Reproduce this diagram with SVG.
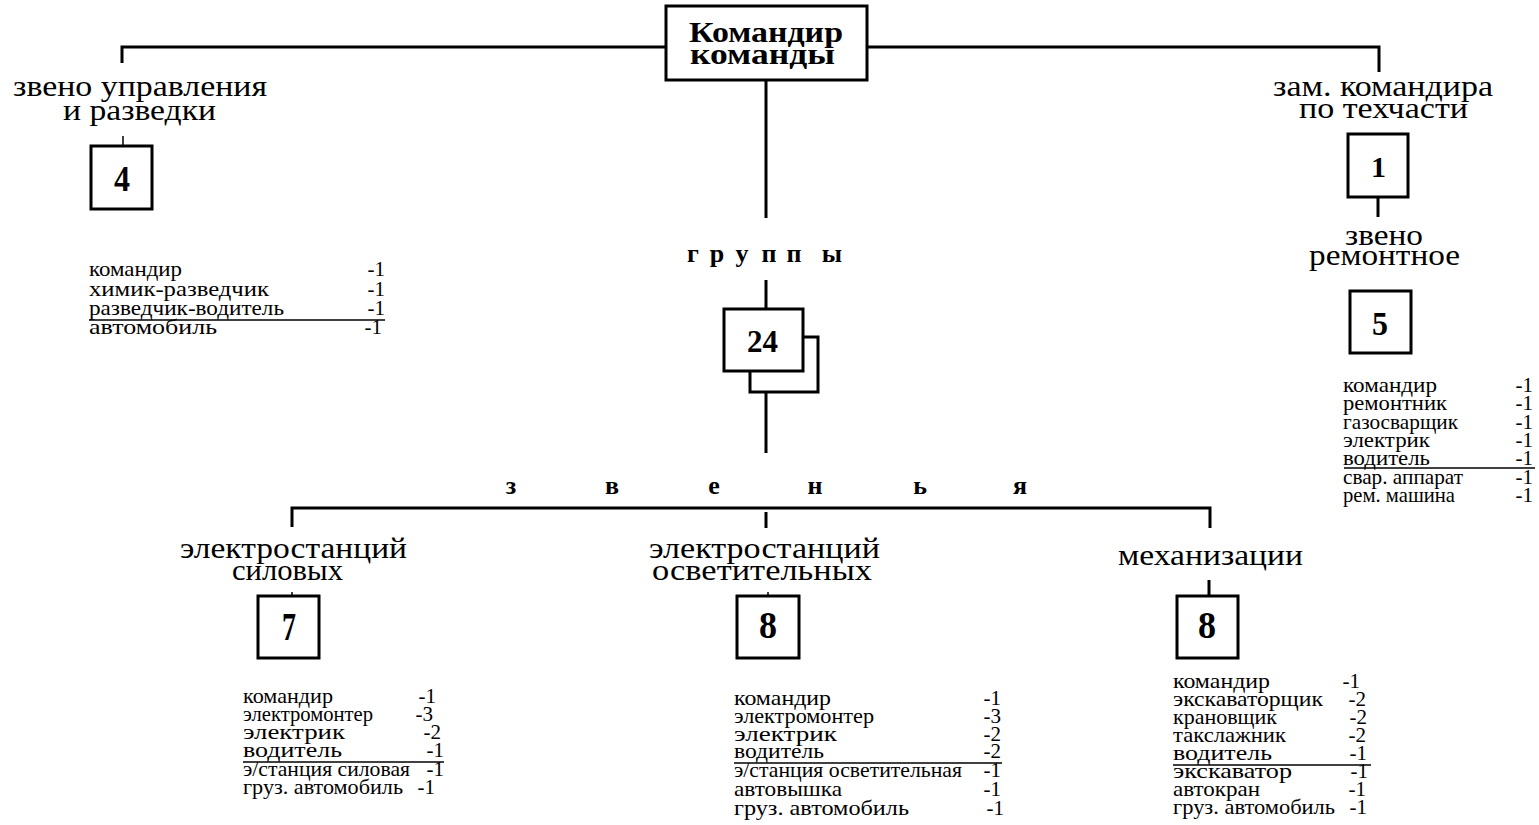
<svg xmlns="http://www.w3.org/2000/svg" width="1539" height="825" viewBox="0 0 1539 825">
<style>
.ln{stroke:#000;stroke-width:3;fill:none}
.thin{stroke:#000;stroke-width:1.5;fill:none}
.box{stroke:#000;stroke-width:3;fill:#fff}
.hd{font-family:"Liberation Serif",serif;font-size:30px;fill:#000}
.num{font-family:"Liberation Serif",serif;font-weight:bold;fill:#000}
.ttl{font-family:"Liberation Serif",serif;font-size:29px;font-weight:bold;fill:#000}
.sp{font-family:"Liberation Serif",serif;font-size:26px;font-weight:bold;text-anchor:middle;fill:#000}
.li{font-family:"Liberation Serif",serif;font-size:21px;fill:#000}
.lr{font-family:"Liberation Serif",serif;font-size:21px;fill:#000;text-anchor:end}
</style>
<rect width="1539" height="825" fill="#fff"/>
<g id="connectors">
<polyline class="ln" points="122,63 122,47 666,47"/>
<polyline class="ln" points="868,47 1379,47 1379,72"/>
<line class="ln" x1="766" y1="80" x2="766" y2="218"/>
<line class="thin" x1="123" y1="136" x2="123" y2="146"/>
<line class="ln" x1="1378" y1="197" x2="1378" y2="217"/>
<line class="ln" x1="766" y1="280" x2="766" y2="309"/>
<line class="ln" x1="766" y1="392" x2="766" y2="453"/>
<polyline class="ln" points="292,527 292,508 1210,508 1210,528"/>
<line class="ln" x1="766" y1="512" x2="766" y2="528"/>
<line class="thin" x1="292" y1="592" x2="292" y2="596"/>
<line class="thin" x1="768" y1="592" x2="768" y2="596"/>
<line class="ln" x1="1209" y1="580" x2="1209" y2="596"/>
</g>
<g id="commander">
<rect class="box" x="666" y="6" width="201" height="74"/>
<text class="ttl"><tspan x="689" y="42" textLength="154" lengthAdjust="spacingAndGlyphs">Командир</tspan><tspan x="690" y="64" textLength="145" lengthAdjust="spacingAndGlyphs">команды</tspan></text>
</g>
<g id="recon">
<text class="hd"><tspan x="13" y="96" textLength="254" lengthAdjust="spacingAndGlyphs">звено управления</tspan><tspan x="63" y="120" textLength="153" lengthAdjust="spacingAndGlyphs">и разведки</tspan></text>
<rect class="box" x="91" y="146" width="61" height="63"/>
<text class="num" x="114" y="191" font-size="36" textLength="16" lengthAdjust="spacingAndGlyphs">4</text>
<text class="li"><tspan x="89" y="276" textLength="93" lengthAdjust="spacingAndGlyphs">командир</tspan><tspan x="89" y="296" textLength="180" lengthAdjust="spacingAndGlyphs">химик-разведчик</tspan><tspan x="89" y="315" textLength="195" lengthAdjust="spacingAndGlyphs">разведчик-водитель</tspan><tspan x="89" y="334" textLength="128" lengthAdjust="spacingAndGlyphs">автомобиль</tspan></text>
<text class="lr"><tspan x="385" y="276">-1</tspan><tspan x="385" y="296">-1</tspan><tspan x="385" y="315">-1</tspan><tspan x="382" y="334">-1</tspan></text>
<line class="thin" x1="89" y1="320" x2="385" y2="320"/>
</g>
<g id="deputy">
<text class="hd"><tspan x="1273" y="96" textLength="220" lengthAdjust="spacingAndGlyphs">зам. командира</tspan><tspan x="1299" y="118" textLength="169" lengthAdjust="spacingAndGlyphs">по техчасти</tspan></text>
<rect class="box" x="1348" y="134" width="60" height="63"/>
<text class="num" x="1371" y="177" font-size="30" textLength="15" lengthAdjust="spacingAndGlyphs">1</text>
</g>
<g id="repair">
<text class="hd"><tspan x="1345" y="245" textLength="78" lengthAdjust="spacingAndGlyphs">звено</tspan><tspan x="1309" y="265" textLength="151" lengthAdjust="spacingAndGlyphs">ремонтное</tspan></text>
<rect class="box" x="1350" y="291" width="61" height="62"/>
<text class="num" x="1372" y="335" font-size="33" textLength="16" lengthAdjust="spacingAndGlyphs">5</text>
<text class="li"><tspan x="1343" y="392" textLength="94" lengthAdjust="spacingAndGlyphs">командир</tspan><tspan x="1343" y="410" textLength="104" lengthAdjust="spacingAndGlyphs">ремонтник</tspan><tspan x="1343" y="429" textLength="115" lengthAdjust="spacingAndGlyphs">газосварщик</tspan><tspan x="1343" y="447" textLength="87" lengthAdjust="spacingAndGlyphs">электрик</tspan><tspan x="1343" y="465" textLength="87" lengthAdjust="spacingAndGlyphs">водитель</tspan><tspan x="1343" y="484" textLength="120" lengthAdjust="spacingAndGlyphs">свар. аппарат</tspan><tspan x="1343" y="502" textLength="112" lengthAdjust="spacingAndGlyphs">рем. машина</tspan></text>
<text class="lr"><tspan x="1533" y="392">-1</tspan><tspan x="1533" y="410">-1</tspan><tspan x="1533" y="429">-1</tspan><tspan x="1533" y="447">-1</tspan><tspan x="1533" y="465">-1</tspan><tspan x="1533" y="484">-1</tspan><tspan x="1533" y="502">-1</tspan></text>
<line class="thin" x1="1344" y1="468" x2="1535" y2="468"/>
</g>
<g id="groups">
<text class="sp" x="693" y="262">г</text>
<text class="sp" x="717" y="262">р</text>
<text class="sp" x="742" y="262">у</text>
<text class="sp" x="769" y="262">п</text>
<text class="sp" x="794" y="262">п</text>
<text class="sp" x="832" y="262">ы</text>
<rect class="box" x="750" y="337" width="68" height="55"/>
<rect class="box" x="724" y="309" width="79" height="62"/>
<text class="num" x="747" y="352" font-size="32" textLength="31" lengthAdjust="spacingAndGlyphs">24</text>
</g>
<g id="links-label">
<text class="sp" x="511" y="494">з</text>
<text class="sp" x="612" y="494">в</text>
<text class="sp" x="714" y="494">е</text>
<text class="sp" x="815" y="494">н</text>
<text class="sp" x="920" y="494">ь</text>
<text class="sp" x="1020" y="494">я</text>
</g>
<g id="power">
<text class="hd"><tspan x="180" y="558" textLength="227" lengthAdjust="spacingAndGlyphs">электростанций</tspan><tspan x="232" y="580" textLength="111" lengthAdjust="spacingAndGlyphs">силовых</tspan></text>
<rect class="box" x="258" y="596" width="61" height="62"/>
<text class="num" x="282" y="640" font-size="39" textLength="14" lengthAdjust="spacingAndGlyphs">7</text>
<text class="li"><tspan x="243" y="703" textLength="90" lengthAdjust="spacingAndGlyphs">командир</tspan><tspan x="243" y="721" textLength="130" lengthAdjust="spacingAndGlyphs">электромонтер</tspan><tspan x="243" y="739" textLength="102" lengthAdjust="spacingAndGlyphs">электрик</tspan><tspan x="243" y="757" textLength="99" lengthAdjust="spacingAndGlyphs">водитель</tspan><tspan x="243" y="776" textLength="167" lengthAdjust="spacingAndGlyphs">э/станция силовая</tspan><tspan x="243" y="794" textLength="160" lengthAdjust="spacingAndGlyphs">груз. автомобиль</tspan></text>
<text class="lr"><tspan x="436" y="703">-1</tspan><tspan x="433" y="721">-3</tspan><tspan x="441" y="739">-2</tspan><tspan x="444" y="757">-1</tspan><tspan x="444" y="776">-1</tspan><tspan x="435" y="794">-1</tspan></text>
<line class="thin" x1="243" y1="762" x2="444" y2="762"/>
</g>
<g id="lighting">
<text class="hd"><tspan x="649" y="558" textLength="231" lengthAdjust="spacingAndGlyphs">электростанций</tspan><tspan x="652" y="580" textLength="220" lengthAdjust="spacingAndGlyphs">осветительных</tspan></text>
<rect class="box" x="737" y="596" width="62" height="62"/>
<text class="num" x="759" y="638" font-size="38" textLength="18" lengthAdjust="spacingAndGlyphs">8</text>
<text class="li"><tspan x="734" y="705" textLength="97" lengthAdjust="spacingAndGlyphs">командир</tspan><tspan x="734" y="723" textLength="140" lengthAdjust="spacingAndGlyphs">электромонтер</tspan><tspan x="734" y="741" textLength="103" lengthAdjust="spacingAndGlyphs">электрик</tspan><tspan x="734" y="758" textLength="90" lengthAdjust="spacingAndGlyphs">водитель</tspan><tspan x="734" y="777" textLength="228" lengthAdjust="spacingAndGlyphs">э/станция осветительная</tspan><tspan x="734" y="796" textLength="108" lengthAdjust="spacingAndGlyphs">автовышка</tspan><tspan x="734" y="815" textLength="175" lengthAdjust="spacingAndGlyphs">груз. автомобиль</tspan></text>
<text class="lr"><tspan x="1001" y="705">-1</tspan><tspan x="1001" y="723">-3</tspan><tspan x="1001" y="741">-2</tspan><tspan x="1001" y="758">-2</tspan><tspan x="1001" y="777">-1</tspan><tspan x="1001" y="796">-1</tspan><tspan x="1004" y="815">-1</tspan></text>
<line class="thin" x1="734" y1="763" x2="1002" y2="763"/>
</g>
<g id="mech">
<text class="hd" x="1118" y="565" textLength="185" lengthAdjust="spacingAndGlyphs">механизации</text>
<rect class="box" x="1177" y="596" width="61" height="62"/>
<text class="num" x="1198" y="638" font-size="38" textLength="18" lengthAdjust="spacingAndGlyphs">8</text>
<text class="li"><tspan x="1173" y="688" textLength="97" lengthAdjust="spacingAndGlyphs">командир</tspan><tspan x="1173" y="706" textLength="150" lengthAdjust="spacingAndGlyphs">экскаваторщик</tspan><tspan x="1173" y="724" textLength="104" lengthAdjust="spacingAndGlyphs">крановщик</tspan><tspan x="1173" y="742" textLength="113" lengthAdjust="spacingAndGlyphs">такслажник</tspan><tspan x="1173" y="760" textLength="99" lengthAdjust="spacingAndGlyphs">водитель</tspan><tspan x="1173" y="778" textLength="119" lengthAdjust="spacingAndGlyphs">экскаватор</tspan><tspan x="1173" y="796" textLength="87" lengthAdjust="spacingAndGlyphs">автокран</tspan><tspan x="1173" y="814" textLength="162" lengthAdjust="spacingAndGlyphs">груз. автомобиль</tspan></text>
<text class="lr"><tspan x="1360" y="688">-1</tspan><tspan x="1366" y="706">-2</tspan><tspan x="1367" y="724">-2</tspan><tspan x="1366" y="742">-2</tspan><tspan x="1367" y="760">-1</tspan><tspan x="1368" y="778">-1</tspan><tspan x="1366" y="796">-1</tspan><tspan x="1367" y="814">-1</tspan></text>
<line class="thin" x1="1173" y1="765" x2="1371" y2="765"/>
</g>
</svg>
